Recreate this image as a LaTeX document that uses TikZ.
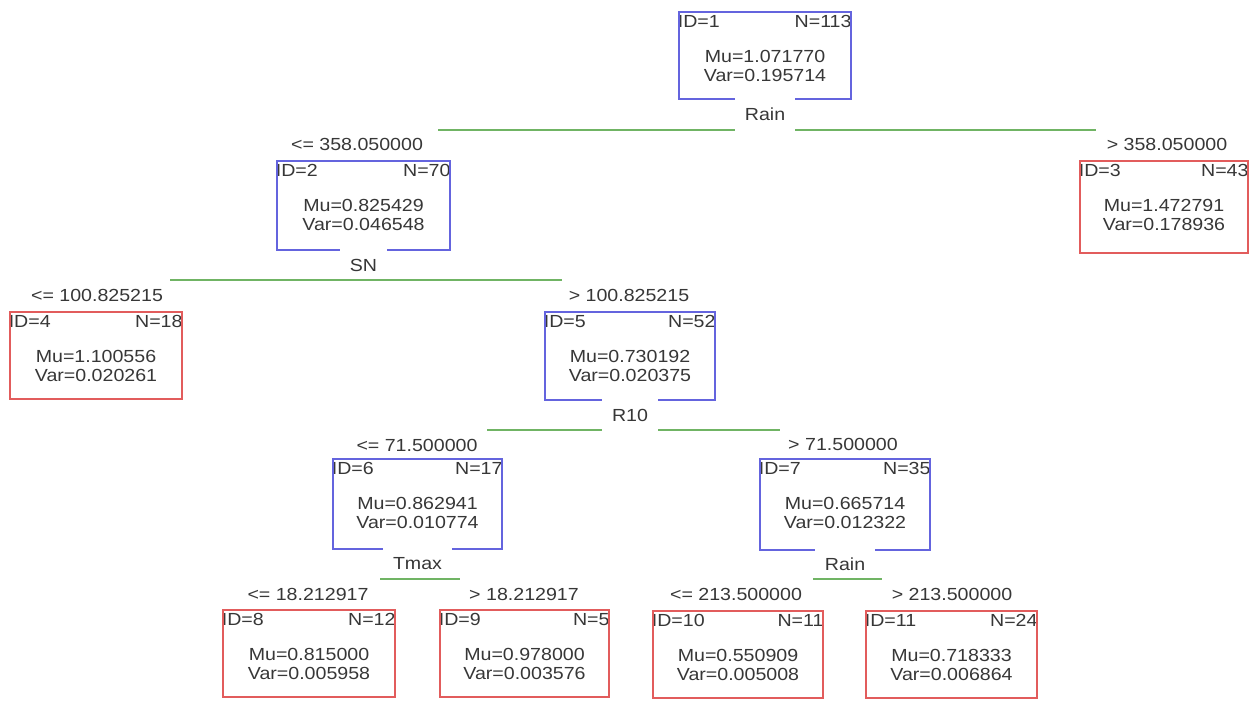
\documentclass[tikz,border=0pt]{standalone}
\usepackage{fontspec}
\newfontfamily\treefont[FakeStretch=1.12]{Liberation Sans}
\usetikzlibrary{calc}
\definecolor{nodeblue}{RGB}{100,100,222}
\definecolor{leafred}{RGB}{226,92,92}
\definecolor{splitgreen}{RGB}{112,180,100}
\definecolor{txtgray}{RGB}{55,55,55}
\tikzset{
  txt/.style={font=\treefont\fontsize{17.5}{20}\selectfont, text=txtgray, inner sep=0pt},
  boxarea/.style={rectangle, inner sep=0pt, draw=none},
  leafframe/.style={draw=leafred, line width=1.5pt},
  nodeframe/.style={draw=nodeblue, line width=1.5pt},
  splitline/.style={draw=splitgreen, line width=1.6pt},
  splitlab/.style={txt, inner xsep=10pt},
  edgelab/.style={txt, anchor=base},
}
% name, L, T, R, B, id, n, mu, var
\newcommand\tbox[9]{%
  \node[boxarea, minimum width={#4-#2}, minimum height={#5-#3}] (#1) at ({(#2+#4)/2},{(#3+#5)/2}) {};
  \node[txt, anchor=base west] (#1id) at ($(#1.north west)+(-1.2,16)$) {ID=#6};
  \node[txt, anchor=base east] (#1n) at ($(#1.north east)+(0.5,16)$) {N=#7};
  \node[txt, anchor=base] (#1mu) at ($(#1.north)+(0,51)$) {Mu=#8};
  \node[txt, anchor=base] (#1var) at ($(#1.north)+(0,70)$) {Var=#9};
}
\begin{document}
\begin{tikzpicture}[x=1pt,y=-1pt]
\fill[white] (0,0) rectangle (1255,702);
\useasboundingbox (0,0) rectangle (1255,702);

% boxes
\tbox{n1}{679}{12}{851}{99}{1}{113}{1.071770}{0.195714}
\tbox{n2}{277}{161}{450}{250}{2}{70}{0.825429}{0.046548}
\tbox{n3}{1080}{161}{1248}{253}{3}{43}{1.472791}{0.178936}
\tbox{n4}{10}{312}{182}{399}{4}{18}{1.100556}{0.020261}
\tbox{n5}{545}{312}{715}{400}{5}{52}{0.730192}{0.020375}
\tbox{n6}{333}{459}{502}{549}{6}{17}{0.862941}{0.010774}
\tbox{n7}{760}{459}{930}{550}{7}{35}{0.665714}{0.012322}
\tbox{n8}{223}{610}{395}{697}{8}{12}{0.815000}{0.005958}
\tbox{n9}{440}{610}{609}{697}{9}{5}{0.978000}{0.003576}
\tbox{n10}{653}{611}{823}{698}{10}{11}{0.550909}{0.005008}
\tbox{n11}{866}{611}{1037}{698}{11}{24}{0.718333}{0.006864}

% split labels
\node[splitlab, anchor=base] (s1) at ($(n1.south)+(0,21)$) {Rain};
\node[splitlab, anchor=base] (s2) at ($(n2.south)+(0,21)$) {SN};
\node[splitlab, anchor=base] (s5) at ($(n5.south)+(0,21)$) {R10};
\node[splitlab, anchor=base] (s6) at ($(n6.south)+(0,20)$) {Tmax};
\node[splitlab, anchor=base] (s7) at ($(n7.south)+(0,20)$) {Rain};

% frames of inner nodes (gap under the split label)
\foreach \n/\s in {n1/s1,n2/s2,n5/s5,n6/s6,n7/s7}{
  \draw[nodeframe] (\n.south -| \s.west) -| (\n.north west) -| (\n.south east) -- (\n.south -| \s.east);
}
% frames of leaves
\foreach \n in {n3,n4,n8,n9,n10,n11}{
  \draw[leafframe] (\n.south west) rectangle (\n.north east);
}

% edge labels
\node[edgelab] (e2) at (357,150) {<= 358.050000};
\node[edgelab] (e3) at (1167,150) {> 358.050000};
\node[edgelab] (e4) at (97,301) {<= 100.825215};
\node[edgelab] (e5) at (629,301) {> 100.825215};
\node[edgelab] (e6) at (417,451) {<= 71.500000};
\node[edgelab] (e7) at (843,450) {> 71.500000};
\node[edgelab] (e8) at (308,600) {<= 18.212917};
\node[edgelab] (e9) at (524,600) {> 18.212917};
\node[edgelab] (e10) at (736,600) {<= 213.500000};
\node[edgelab] (e11) at (952,600) {> 213.500000};

% split connectors
\coordinate (g1a) at (438,130);
\coordinate (g1b) at (1096,130);
\draw[splitline] (g1a) -- (s1.west |- g1a);
\draw[splitline] (s1.east |- g1b) -- (g1b);
\coordinate (g2a) at (170,280);
\coordinate (g2b) at (562,280);
\draw[splitline] (g2a) -- (g2b);
\coordinate (g5a) at (487,430);
\coordinate (g5b) at (780,430);
\draw[splitline] (g5a) -- (s5.west |- g5a);
\draw[splitline] (s5.east |- g5b) -- (g5b);
\coordinate (g6a) at (380,579);
\coordinate (g6b) at (460,579);
\draw[splitline] (g6a) -- (g6b);
\coordinate (g7a) at (813,579);
\coordinate (g7b) at (882,579);
\draw[splitline] (g7a) -- (g7b);
\end{tikzpicture}
\end{document}
